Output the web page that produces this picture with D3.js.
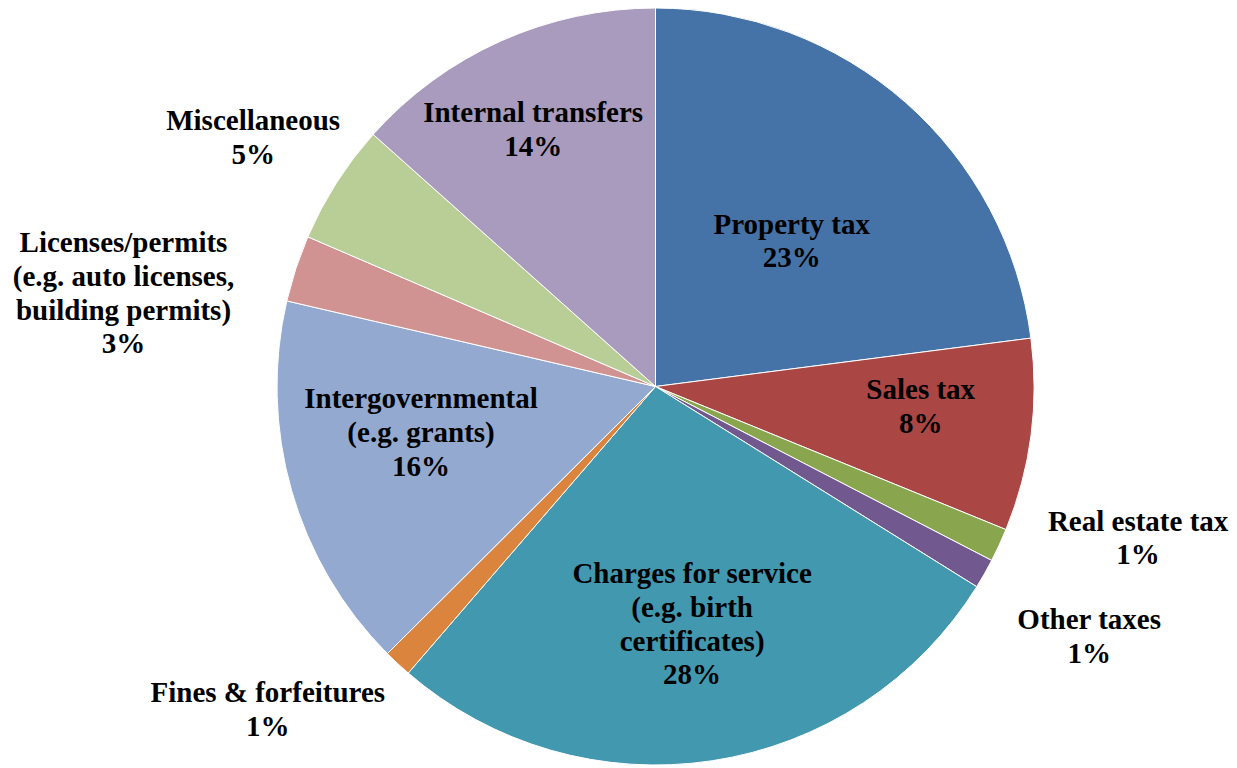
<!DOCTYPE html>
<html><head><meta charset="utf-8">
<script src="https://cdn.jsdelivr.net/npm/d3@7"></script>
<style>body{margin:0;background:#fff}svg{display:block}</style>
</head><body>
<svg id="c" width="1237" height="768"></svg>
<script>
const categories = ["Property tax","Sales tax","Real estate tax","Other taxes","Charges for service (e.g. birth certificates)","Fines & forfeitures","Intergovernmental (e.g. grants)","Licenses/permits (e.g. auto licenses, building permits)","Miscellaneous","Internal transfers"];
const labelLines = [["Property tax"],["Sales tax"],["Real estate tax"],["Other taxes"],["Charges for service","(e.g. birth","certificates)"],["Fines & forfeitures"],["Intergovernmental","(e.g. grants)"],["Licenses/permits","(e.g. auto licenses,","building permits)"],["Miscellaneous"],["Internal transfers"]];
const values = [22.96, 8.21, 1.43, 1.27, 27.46, 1.20, 16.10, 2.84, 5.13, 13.40];
const pctLabels = ["23%","8%","1%","1%","28%","1%","16%","3%","5%","14%"];
const colors = ["#4573A7","#AA4644","#89A54E","#71588F","#4298AF","#DB843D","#93A9CF","#D19392","#B9CD96","#A99BBD"];

// label placement: angular offset (deg) from slice middle, and distance from centre
const labelPlace = [[1.9,199],[-3.0,266],[-7.3,506],[0.4,501],[-0.1,241],[7.2,505],[4.7,239],[-8.3,540],[-0.8,473],[-1.4,284]];

const cx = 655.5, cy = 386.5, R = 378.5;
const svg = d3.select("#c");
const g = svg.append("g").attr("transform", `translate(${cx},${cy})`);

const pie = d3.pie().value(d => d).sort(null);
const arcs = pie(values);
const arc = d3.arc().innerRadius(0).outerRadius(R);

g.selectAll("path").data(arcs).join("path")
  .attr("d", arc)
  .attr("fill", (d,i) => colors[i])
  .attr("stroke", "#fff").attr("stroke-width", 1);

const fs = 29, lh = 33.7;
const tg = svg.append("g");
arcs.forEach((a,i) => {
  const mid = (a.startAngle + a.endAngle)/2 + labelPlace[i][0]*Math.PI/180;
  const r = labelPlace[i][1];
  const x = cx + Math.sin(mid)*r, y = cy - Math.cos(mid)*r;
  const lines = labelLines[i].concat([pctLabels[i]]);
  const y0 = y - (lines.length-1)*lh/2;
  lines.forEach((l,j) => {
    const t = tg.append("text")
      .attr("y", y0 + j*lh + 9)
      .attr("font-family", "Liberation Serif")
      .attr("font-weight", "bold")
      .attr("font-size", fs)
      .style("font-family", '"Liberation Serif"')
      .style("font-weight", "bold")
      .style("font-size", fs + "px")
      .style("fill", "#000")
      .text(l);
    const w = t.node().getComputedTextLength();
    t.attr("x", x - w/2);
  });
});
</script>
</body></html>
